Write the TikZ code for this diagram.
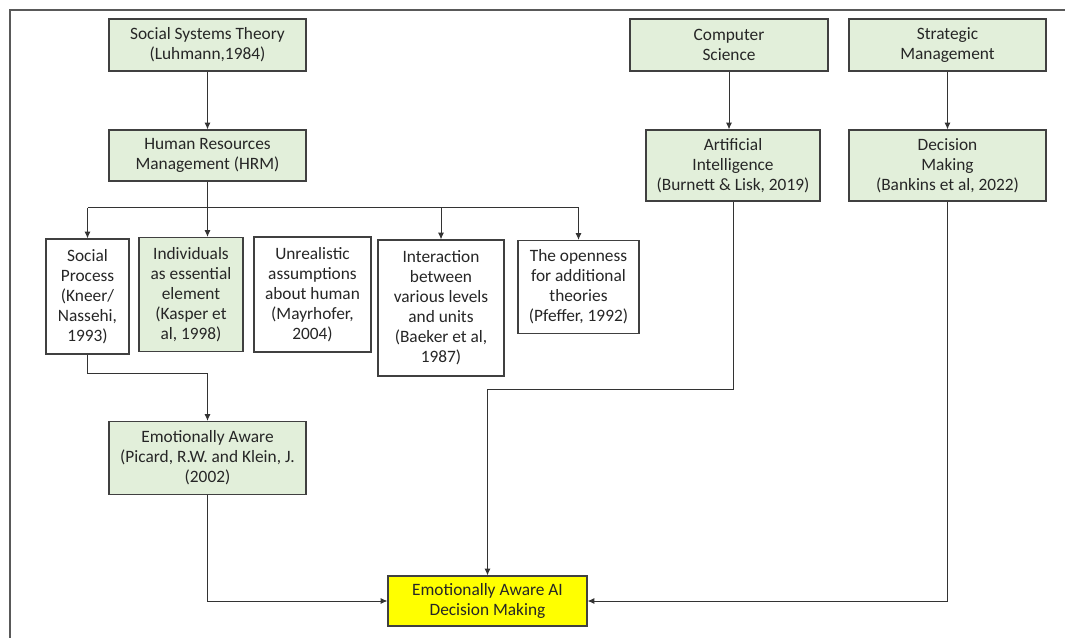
\documentclass[tikz,border=0pt]{standalone}
\usepackage{fontspec}
\setmainfont{Carlito}
\usepackage{tikz}
\usetikzlibrary{arrows.meta,positioning}
\definecolor{boxgreen}{RGB}{226,239,218}
\definecolor{boxline}{RGB}{64,64,64}
\definecolor{aiyellow}{RGB}{255,255,0}

\begin{document}
\begin{tikzpicture}[x=0.75pt,y=-0.75pt,
	box/.style={draw=boxline,line width=0.9pt,inner sep=0pt,align=center,text=black!85,font=\fontsize{13}{15}\selectfont},
	greenbox/.style={box,fill=boxgreen},
	whitebox/.style={box,fill=white},
	goalbox/.style={box,fill=aiyellow},
	link/.style={draw=black!80,line width=0.75pt},
	>={Latex[length=5pt,width=4.5pt]}]
	\useasboundingbox (0,0) rectangle (1065,638);
	\draw[gray!70!black,line width=1pt] (10,638) -- (10,10) -- (1065,10);

	% top row
	\node[greenbox,minimum width=147.75pt,minimum height=39pt] at (207.5,45) (SST) {Social Systems Theory\\(Luhmann,1984)};
	\node[greenbox,minimum width=148.5pt,minimum height=39pt] at (729,45) (CS) {Computer\\Science};
	\node[greenbox,minimum width=147.75pt,minimum height=39pt] at (947.5,45) (SM) {Strategic\\Management};

	% second row
	\node[greenbox,minimum width=147.75pt,minimum height=38.25pt] at (207.5,155.5) (HRM) {Human Resources\\Management (HRM)};
	\node[greenbox,minimum width=130.5pt,minimum height=53.25pt] at (733,165.5) (AI) {Artificial\\Intelligence\\(Burnett \& Lisk, 2019)};
	\node[greenbox,minimum width=147.75pt,minimum height=53.25pt] at (947.5,165.5) (DM) {Decision\\Making\\(Bankins et al, 2022)};

	% aspects of HRM
	\coordinate (bus) at (0,208);
	\node[whitebox,minimum width=62.25pt,minimum height=86.25pt] at (87.5,296.5) (SP) {Social\\Process\\(Kneer/\\Nassehi,\\1993)};
	\node[greenbox,minimum width=78pt,minimum height=85.5pt] at (191,294.5) (IND) {Individuals\\as essential\\element\\(Kasper et\\al, 1998)};
	\node[whitebox,minimum width=87.75pt,minimum height=86.25pt] at (312.5,294.5) (UNR) {Unrealistic\\assumptions\\about human\\(Mayrhofer,\\2004)};
	\node[whitebox,minimum width=94.5pt,minimum height=102pt] at (441,308) (INT) {Interaction\\between\\various levels\\and units\\(Baeker et al,\\1987)};
	\node[whitebox,minimum width=90.75pt,minimum height=69.75pt] at (578.5,287) (OPEN) {The openness\\for additional\\theories\\(Pfeffer, 1992)};

	\node[greenbox,minimum width=147.75pt,minimum height=54.75pt] at (207.5,458) (EA) {Emotionally Aware\\(Picard, R.W. and Klein, J.\\(2002)};
	\node[goalbox,minimum width=149.25pt,minimum height=37.5pt] at (487.5,601) (GOAL) {Emotionally Aware AI\\Decision Making};

	% connectors
	\draw[link,->] (SST) -- (HRM);
	\draw[link,->] (CS.south) -- (CS.south |- AI.north);
	\draw[link,->] (SM) -- (DM);

	\draw[link] (SP.north |- bus) -- (OPEN.north |- bus);
	\draw[link,->] (HRM.south) -- (HRM.south |- IND.north);
	\draw[link,->] (SP.north |- bus) -- (SP.north);
	\draw[link,->] (INT.north |- bus) -- (INT.north);
	\draw[link,->] (OPEN.north |- bus) -- (OPEN.north);

	\draw[link,->] (SP.south) -- ++(0,19) -| (EA.north);
	\draw[link,->] (EA.south) |- (GOAL.west);
	\draw[link,->] (AI.south) -- ++(0,188) -| (GOAL.north);
	\draw[link,->] (DM.south) |- (GOAL.east);
\end{tikzpicture}
\end{document}
